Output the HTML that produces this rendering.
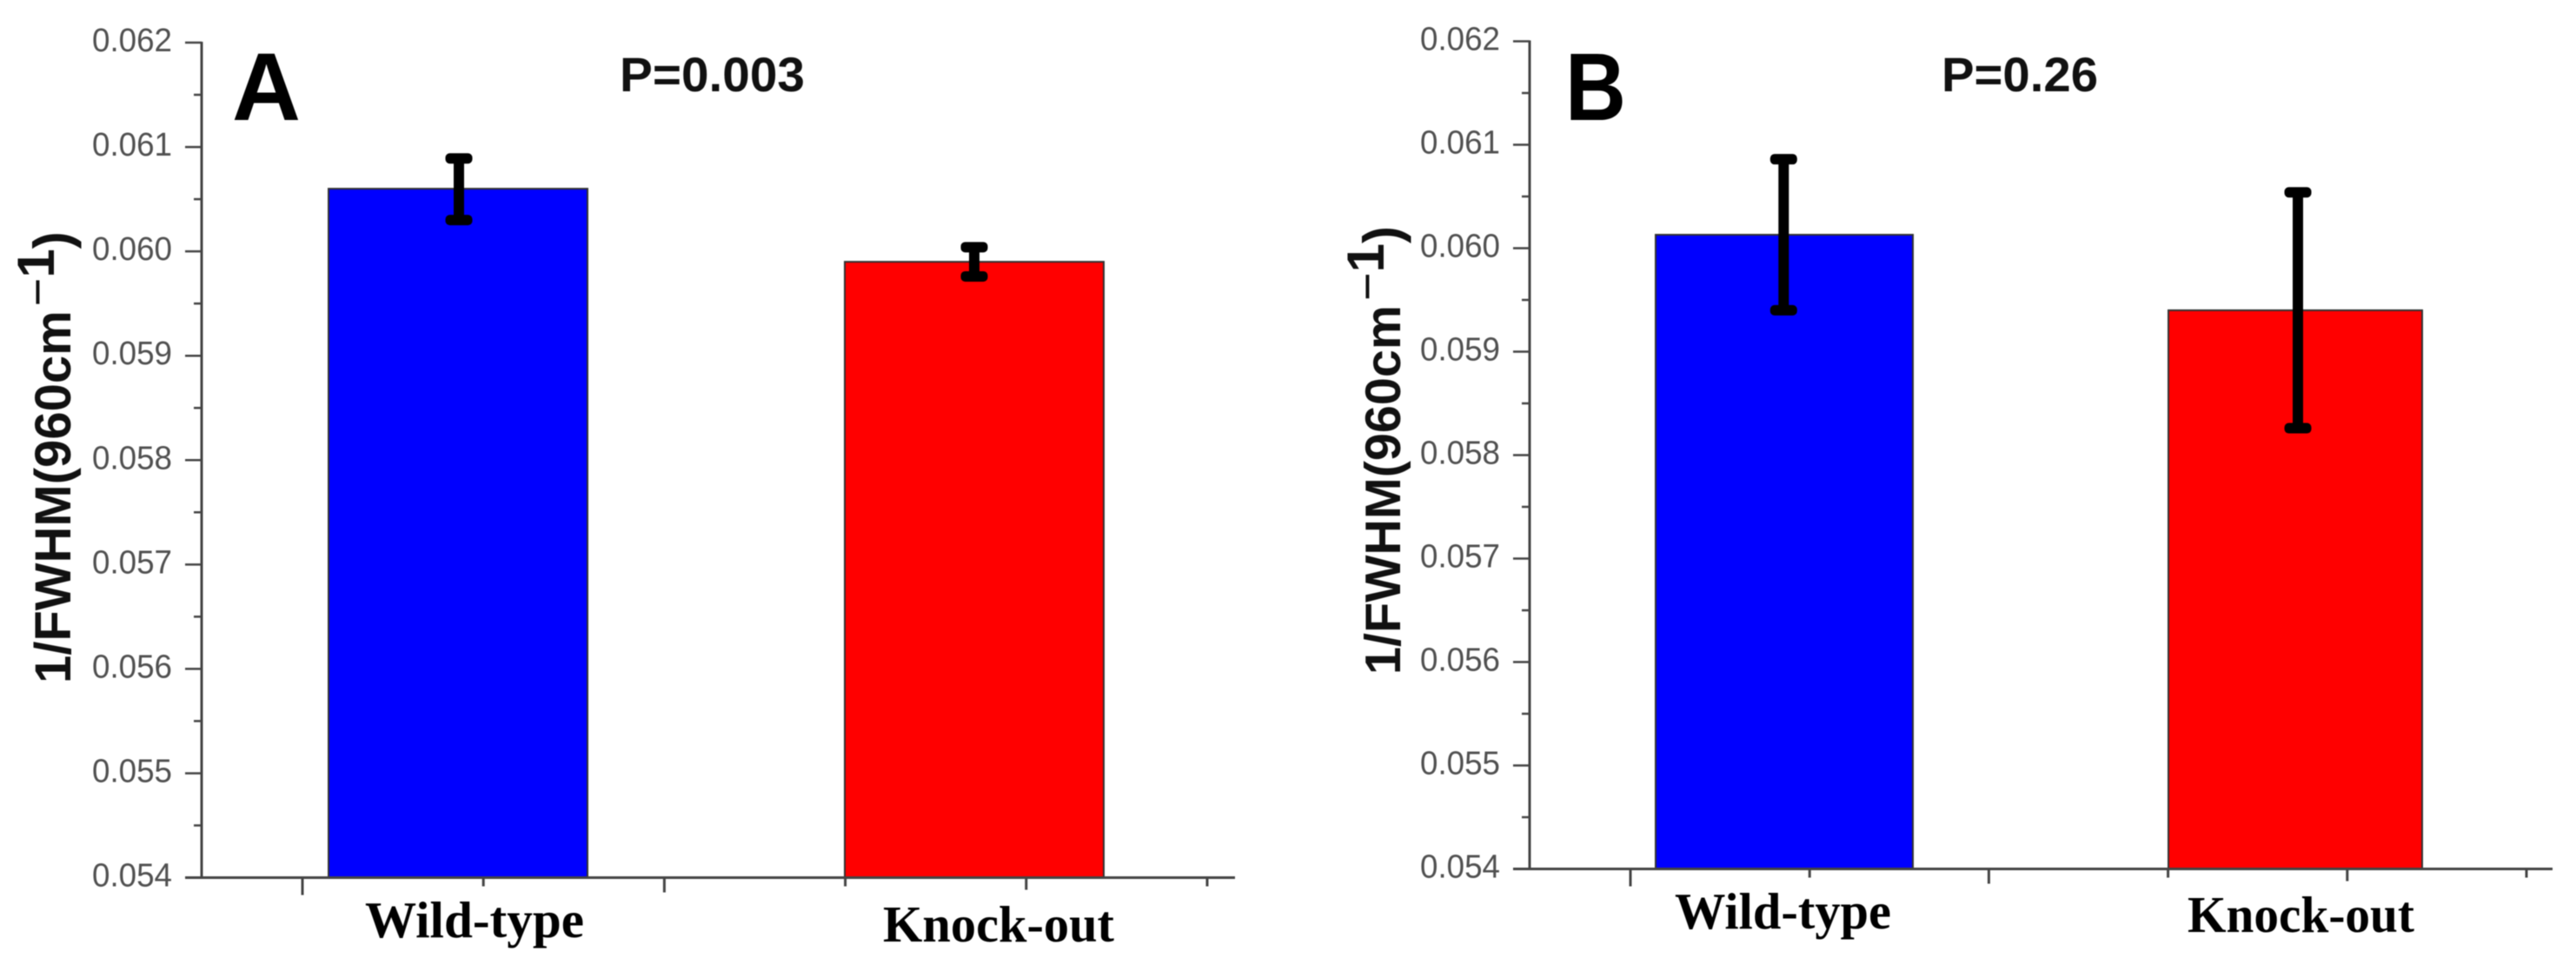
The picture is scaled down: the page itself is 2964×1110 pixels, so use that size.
<!DOCTYPE html>
<html lang="en">
<head>
<meta charset="utf-8">
<title>1/FWHM bar charts, Wild-type vs Knock-out</title>
<style>
html,body{margin:0;padding:0;background:#fff;width:2964px;height:1110px;overflow:hidden}
svg{display:block;filter:blur(0.6px)}
</style>
</head>
<body>
<svg id="figure" xmlns="http://www.w3.org/2000/svg" width="2964" height="1110" viewBox="0 0 2964 1110"></svg>
<script>
const categories = ['Wild-type', 'Knock-out'];
const barColors = ['#0000ff', '#ff0000'];
const yTickLabels = ['0.054', '0.055', '0.056', '0.057', '0.058', '0.059', '0.060', '0.061', '0.062'];
const valuesA = [0.0606, 0.0599];
const errorHighA = [0.06089, 0.06004];
const errorLowA = [0.0603, 0.05976];
const valuesB = [0.06013, 0.0594];
const errorHighB = [0.06086, 0.06054];
const errorLowB = [0.0594, 0.05826];

const SVG_NS = 'http://www.w3.org/2000/svg';
const figure = document.getElementById('figure');

function make(parent, tag, attrs, text) {
  const el = document.createElementNS(SVG_NS, tag);
  for (const k in attrs) el.setAttribute(k, attrs[k]);
  if (text !== undefined) el.textContent = text;
  parent.appendChild(el);
  return el;
}

function drawPanel(p) {
  const group = make(figure, 'g', {});
  
  

  const yMin = parseFloat(yTickLabels[0]);
  const yMax = parseFloat(yTickLabels[yTickLabels.length - 1]);
  const yScale = v => p.bottom + (v - yMin) / (yMax - yMin) * (p.top - p.bottom);
  const xScale = i => p.barStart + i * p.barStep;

  // bars
  p.values.forEach((v, i) => {
    const y = yScale(v);
    const bar = make(group, 'rect', {
      x: xScale(i), y: y, width: p.barWidths[i], height: p.bottom - y,
      fill: barColors[i], stroke: '#333', 'stroke-width': 2
    });
    
    
  });

  // y axis
  const yAxis = make(group, 'line', {
    x1: p.axisX, x2: p.axisX, y1: p.top - 1, y2: p.bottom + 1,
    stroke: '#444', 'stroke-width': 3
  });
  
  

  yTickLabels.forEach((label, i) => {
    const value = parseFloat(label);
    const y = yScale(value);
    const tick = make(group, 'line', {
      x1: p.axisX - 19, x2: p.axisX, y1: y, y2: y,
      stroke: '#444', 'stroke-width': 2.5
    });
    
    
    const tickLabel = make(group, 'text', {
      x: p.axisX - 126, y: y + 10,
      'font-family': '"Liberation Sans", sans-serif', 'font-size': 38, fill: '#505050',
      textLength: 92, lengthAdjust: 'spacingAndGlyphs'
    }, label);
    
    
    if (i < yTickLabels.length - 1) {
      const yMid = yScale(value + 0.0005);
      const minor = make(group, 'line', {
        x1: p.axisX - 9, x2: p.axisX, y1: yMid, y2: yMid,
        stroke: '#444', 'stroke-width': 2.5
      });
      
      
    }
  });

  // x axis
  const xAxis = make(group, 'line', {
    x1: p.axisX - 19, x2: p.xEnd, y1: p.bottom, y2: p.bottom,
    stroke: '#444', 'stroke-width': 3
  });
  
  

  for (let i = 0; i < 6; i++) {
    const x = p.tickStart + i * p.tickStep;
    const len = i % 2 === 0 ? 20 - i * 1.5 : 10;
    const xTick = make(group, 'line', {
      x1: x, x2: x, y1: p.bottom, y2: p.bottom + len,
      stroke: '#444', 'stroke-width': 3
    });
    
    
  }

  // error bars
  p.values.forEach((v, i) => {
    const cx = xScale(i) + p.barWidths[i] / 2 + p.errOffsets[i];
    const yHigh = yScale(p.errHigh[i]);
    const yLow = yScale(p.errLow[i]);
    const err = make(group, 'g', {});
    
    
    make(err, 'line', { x1: cx, x2: cx, y1: yHigh, y2: yLow, stroke: '#000', 'stroke-width': 12 });
    make(err, 'rect', { x: cx - 15.5, y: yHigh - 6, width: 31, height: 12, rx: 5, fill: '#000' });
    make(err, 'rect', { x: cx - 15.5, y: yLow - 6, width: 31, height: 12, rx: 5, fill: '#000' });
  });

  // category labels
  categories.forEach((c, i) => {
    const label = make(group, 'text', {
      x: p.catX[i], y: p.catY[i],
      'font-family': '"Liberation Serif", serif', 'font-weight': 'bold', 'font-size': 59, fill: '#000',
      textLength: p.catWidth[i], lengthAdjust: 'spacingAndGlyphs'
    }, c);
    
    
  });

  // panel letter
  const letter = make(group, 'text', {
    x: p.letterX, y: 138,
    'font-family': '"Liberation Sans", sans-serif', 'font-weight': 'bold', 'font-size': 110, fill: '#000',
    textLength: p.letterWidth, lengthAdjust: 'spacingAndGlyphs'
  }, p.letter);
  
  

  // p value
  const pText = make(group, 'text', {
    x: p.pX, y: 105,
    'font-family': '"Liberation Sans", sans-serif', 'font-weight': 'bold', 'font-size': 56, fill: '#111',
    textLength: p.pWidth, lengthAdjust: 'spacingAndGlyphs'
  }, p.pLabel);
  
  

  // y axis title
  const title = make(group, 'text', {
    transform: 'translate(' + p.titleX + ',' + p.titleY + ') rotate(-90)',
    'font-family': '"Liberation Sans", sans-serif', 'font-weight': 'bold', 'font-size': p.titleSize, fill: '#111'
  }, '1/FWHM(960cm');
  
  
  make(title, 'tspan', { dx: 5, dy: -19, 'font-size': 56, 'font-weight': 'normal' }, '\u2212');
  make(title, 'tspan', { 'font-size': 60 }, '1');
  make(title, 'tspan', { dy: 19, 'font-size': 60 }, ')');
}

drawPanel({
  name: 'panel-a', letter: 'A', pLabel: 'P=0.003',
  values: valuesA, errHigh: errorHighA, errLow: errorLowA,
  axisX: 232, top: 49, bottom: 1009.5, xEnd: 1421,
  tickStart: 348, tickStep: 208.2,
  barStart: 378, barStep: 594, barWidths: [298, 298], errOffsets: [1, 0],
  catX: [420, 1016], catY: [1078, 1083], catWidth: [252, 266],
  letterX: 267, letterWidth: 79, pX: 713, pWidth: 213,
  titleX: 81, titleY: 786, titleSize: 58
});

drawPanel({
  name: 'panel-b', letter: 'B', pLabel: 'P=0.26',
  values: valuesB, errHigh: errorHighB, errLow: errorLowB,
  axisX: 1760, top: 47.5, bottom: 999.5, xEnd: 2937,
  tickStart: 1876, tickStep: 206.2,
  barStart: 1905, barStep: 590, barWidths: [296, 292], errOffsets: [-0.7, 3],
  catX: [1927, 2517], catY: [1068, 1072], catWidth: [249, 261],
  letterX: 1801, letterWidth: 70, pX: 2234, pWidth: 180,
  titleX: 1611, titleY: 776, titleSize: 57.5
});
</script>
</body>
</html>
